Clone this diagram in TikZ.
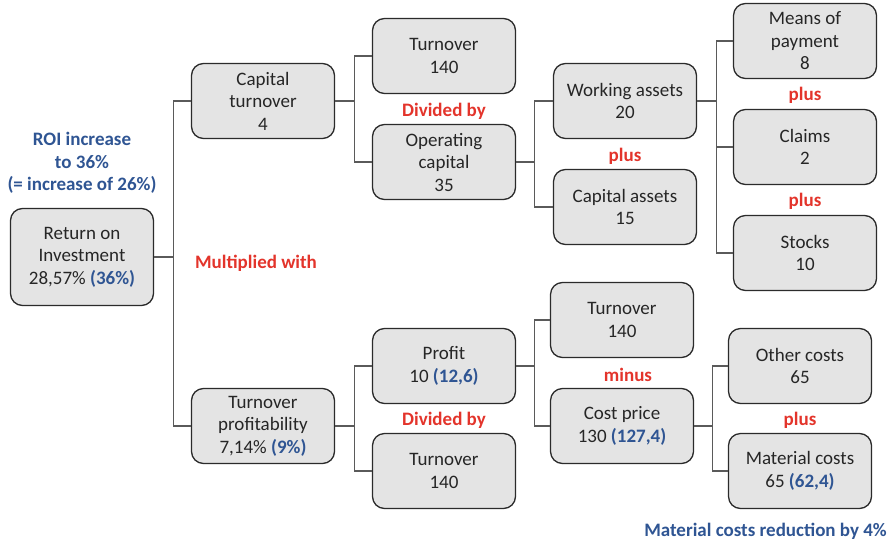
\documentclass[tikz,border=0pt]{standalone}
\usepackage{fontspec}
\setmainfont{Carlito}
\begin{document}
\definecolor{boxfill}{HTML}{E4E4E4}
\definecolor{boxline}{HTML}{2B2B2B}
\definecolor{linkgray}{HTML}{5A5A5A}
\definecolor{opred}{HTML}{E3342B}
\definecolor{noteblue}{HTML}{2F5593}
\begin{tikzpicture}[x=1pt,y=-1pt,
  kbox/.style={draw=boxline,line width=1.3pt,fill=boxfill,rounded corners=12pt,
    minimum width=143pt,minimum height=75pt,inner sep=0pt,align=center,
    font=\fontsize{19}{22.5}\selectfont,text=black!85},
  oplabel/.style={font=\fontsize{19}{22.5}\selectfont\bfseries,text=opred,inner sep=0pt},
  note/.style={font=\fontsize{19}{22.5}\selectfont\bfseries,text=noteblue,align=center,inner sep=0pt},
  link/.style={draw=linkgray,line width=1.2pt}]
\useasboundingbox (0,0) rectangle (890,543);

% level 0
\node[kbox,minimum height=97pt] (roi) at (82,257) {Return on\\Investment\\28,57\% {\color{noteblue}\bfseries(36\%)}};
% level 1
\node[kbox] (ct) at (263,101) {Capital\\turnover\\4};
\node[kbox] (tp) at (263,426) {Turnover\\profitability\\7,14\% {\color{noteblue}\bfseries(9\%)}};
% level 2
\node[kbox] (to1) at (444,56) {Turnover\\140};
\node[kbox] (oc) at (444,162) {Operating\\capital\\35};
\node[kbox] (pr) at (444,366) {Profit\\10 {\color{noteblue}\bfseries(12,6)}};
\node[kbox] (to2) at (444,471) {Turnover\\140};
% level 3
\node[kbox] (wa) at (625,101) {Working assets\\20};
\node[kbox] (ca) at (625,207) {Capital assets\\15};
\node[kbox] (to3) at (622,320) {Turnover\\140};
\node[kbox] (cp) at (622,426) {Cost price\\130 {\color{noteblue}\bfseries(127,4)}};
% level 4
\node[kbox] (mp) at (805,41) {Means of\\payment\\8};
\node[kbox] (cl) at (805,147) {Claims\\2};
\node[kbox] (st) at (805,253) {Stocks\\10};
\node[kbox] (oco) at (800,366) {Other costs\\65};
\node[kbox] (mc) at (800,471) {Material costs\\65 {\color{noteblue}\bfseries(62,4)}};

% connectors
\draw[link] (roi.east) -- ++(19,0) |- (ct.west);
\draw[link] (roi.east) -- ++(19,0) |- (tp.west);
\draw[link] (ct.east) -- ++(19,0) |- (to1.west);
\draw[link] (ct.east) -- ++(19,0) |- (oc.west);
\draw[link] (oc.east) -- ++(18,0) |- (wa.west);
\draw[link] (oc.east) -- ++(18,0) |- (ca.west);
\draw[link] (wa.east) -- ++(19,0) |- (mp.west);
\draw[link] (wa.east) -- ++(19,0) |- (cl.west);
\draw[link] (wa.east) -- ++(19,0) |- (st.west);
\draw[link] (tp.east) -- ++(19,0) |- (pr.west);
\draw[link] (tp.east) -- ++(19,0) |- (to2.west);
\draw[link] (pr.east) -- ++(18,0) |- (to3.west);
\draw[link] (pr.east) -- ++(18,0) |- (cp.west);
\draw[link] (cp.east) -- ++(18,0) |- (oco.west);
\draw[link] (cp.east) -- ++(18,0) |- (mc.west);

% operator labels
\node[oplabel] (m1) at (256,263) {Multiplied with};
\node[oplabel] (d1) at (444,111) {Divided by};
\node[oplabel] (d2) at (444,420) {Divided by};
\node[oplabel] (p1) at (625,156) {plus};
\node[oplabel] (p2) at (805,95) {plus};
\node[oplabel] (p3) at (805,201) {plus};
\node[oplabel] (mi) at (628,375) {minus};
\node[oplabel] (p4) at (800,420) {plus};

% notes
\node[note] (n1) at (82,163) {ROI increase\\to 36\%\\(= increase of 26\%)};
\node[note,anchor=east] (n2) at (887,531) {Material costs reduction by 4\%};
\end{tikzpicture}
\end{document}
